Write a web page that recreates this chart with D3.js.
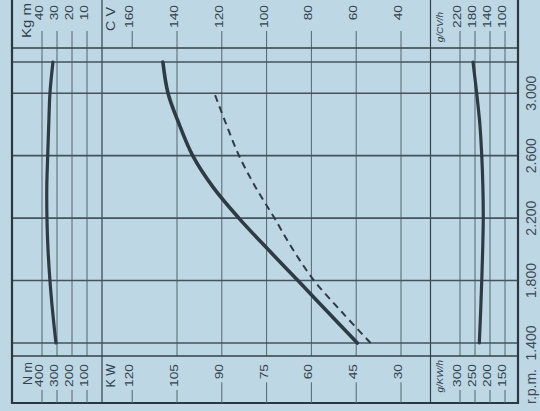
<!DOCTYPE html>
<html><head><meta charset="utf-8">
<script src="https://cdn.jsdelivr.net/npm/d3@7"></script>
<style>body{margin:0;background:#bdd7e5;} svg{display:block}</style>
</head><body>
<svg id="c" width="540" height="411"></svg>
<script>
// ---- data ----
const rpm = [1400, 1600, 1800, 2000, 2200, 2400, 2600, 2800, 3000, 3200];
const powerCV = [59.5, 72.8, 86, 99.4, 112.4, 124, 133, 139, 144, 146.3];
const rpmDashed = [1400, 1600, 1800, 2000, 2200, 2400, 2600, 2800, 3000];
const powerCVDashed = [53.6, 66.5, 78.8, 88.3, 96.5, 105, 112.3, 118, 123.3];
const torqueKgm = [30.7, 32.9, 34.7, 36.0, 36.7, 36.8, 36.2, 35.5, 34.7, 32.7];
const consumptionGCV = [168.5, 165, 162, 159.5, 158, 159, 162, 167, 175.5, 185.3];

const rpmGrid = [1400, 1800, 2200, 2600, 3000, 3200];
const rpmTicks = [1400, 1800, 2200, 2600, 3000];
const rpmLabels = ["1.400", "1.800", "2.200", "2.600", "3.000"];
const kgmTicks = [40, 30, 20, 10];
const nmTicks = [400, 300, 200, 100];
const cvTicks = [160, 140, 120, 100, 80, 60, 40];
const kwTicks = [120, 105, 90, 75, 60, 45, 30];
const gcvTicks = [220, 180, 140, 100];
const gkwTicks = [300, 250, 200, 150];

// ---- layout ----
const svg = d3.select("#c");
const F = {l: 12, r: 518, t: 0, b: 403, bandTop: 48, bandBot: 356, tickTop: 31};
const y = d3.scaleLinear().domain([1400, 3200]).range([343, 62]);
const xCV = d3.scaleLinear().domain([140, 40]).range([177, 401]);
const xKW = d3.scaleLinear().domain([105, 30]).range([177, 401]);
const xKgm = d3.scaleLinear().domain([40, 0]).range([42, 102]);
const xNm = d3.scaleLinear().domain([400, 0]).range([42, 102]);
const xGCV = d3.scaleLinear().domain([220, 100]).range([460, 505]);
const xGKW = d3.scaleLinear().domain([300, 150]).range([460, 505]);

const ink = "#34424b";
const gridC = "#56656f";

svg.append("rect").attr("width", 540).attr("height", 411).attr("fill", "#bdd7e5");

const g = svg.append("g");
// vertical gridlines in plot (from top tick start to bottom band)
const vx = [...kgmTicks.map(xKgm), ...cvTicks.filter(d => d <= 140).map(xCV), ...gcvTicks.map(xGCV)];
g.selectAll(".vg").data(vx).join("line")
  .attr("x1", d => d).attr("x2", d => d).attr("y1", F.tickTop).attr("y2", F.bandBot)
  .attr("stroke", gridC).attr("stroke-width", 1);
// CV 160 tick only in top band
g.append("line").attr("x1", xCV(160)).attr("x2", xCV(160)).attr("y1", F.tickTop).attr("y2", F.bandTop)
  .attr("stroke", gridC).attr("stroke-width", 1);
// separators full height
const sep = [xKgm(0), (xCV(40) + xGCV(220)) / 2];
g.selectAll(".sep").data(sep).join("line")
  .attr("x1", d => d).attr("x2", d => d).attr("y1", F.t).attr("y2", F.b)
  .attr("stroke", ink).attr("stroke-width", 1.2);
// horizontal rpm gridlines
g.selectAll(".hg").data(rpmGrid).join("line")
  .attr("x1", F.l).attr("x2", F.r).attr("y1", d => y(d)).attr("y2", d => y(d))
  .attr("stroke", "#45535c").attr("stroke-width", 1.6);
// band borders
g.selectAll(".bb").data([F.bandTop, F.bandBot]).join("line")
  .attr("x1", F.l).attr("x2", F.r).attr("y1", d => d).attr("y2", d => d)
  .attr("stroke", ink).attr("stroke-width", 1.6);
// frame
g.append("path").attr("d", `M${F.l},${F.t}V${F.b}H${F.r}V${F.t}`)
  .attr("fill", "none").attr("stroke", "#2c373e").attr("stroke-width", 2.2);

// ---- curves ----
const curve = d3.curveCatmullRom.alpha(0.5);
function drawCurve(xs, vals, xScale, w, dash) {
  const line = d3.line().x(d => xScale(d[1])).y(d => y(d[0])).curve(curve);
  svg.append("path").datum(xs.map((r, i) => [r, vals[i]]))
    .attr("d", line).attr("fill", "none").attr("stroke", "#2f3b44")
    .attr("stroke-width", w).attr("stroke-linecap", dash ? "butt" : "round")
    .attr("stroke-dasharray", dash || null);
}
drawCurve(rpm, torqueKgm, xKgm, 3.2);
drawCurve(rpm, powerCV, xCV, 3.6);
drawCurve(rpmDashed, powerCVDashed, xCV, 2, "7,5");
drawCurve(rpm, consumptionGCV, xGCV, 3.2);

// ---- text ----
const fontFam = "'Liberation Sans', Arial, Helvetica, sans-serif";
function vtext(x, yy, txt, opts) {
  const o = Object.assign({size: 11, sx: 1.25, anchor: "end", style: "normal", fill: ink}, opts || {});
  return svg.append("text")
    .attr("transform", `translate(${x},${yy}) rotate(-90) scale(${o.sx},1)`)
    .attr("text-anchor", o.anchor).attr("font-family", fontFam)
    .attr("font-size", o.size).attr("font-style", o.style).attr("fill", o.fill).text(txt);
}
// top band labels
vtext(31, 3, "Kg m", {size: 12.5, sx: 1.2});
kgmTicks.forEach(d => vtext(xKgm(d) + 1, 5, d));
vtext(115, 7, "C V", {size: 12.5, sx: 1.15});
cvTicks.forEach(d => vtext(xCV(d) + 1, 5, d));
vtext(443, 12, "g/CV/h", {size: 9, sx: 1.1, style: "italic"});
gcvTicks.forEach(d => vtext(xGCV(d) + 1, 5, d));

// bottom band labels with ticks below the text
function bottomLabel(x, txt, opts) {
  const t = vtext(x + 1, 364, txt, opts);
  const sx = (opts && opts.sx) || 1.25;
  const len = t.node().getComputedTextLength() * sx;
  svg.append("line").attr("x1", x).attr("x2", x).attr("y1", 364 + len + 3).attr("y2", F.b)
    .attr("stroke", gridC).attr("stroke-width", 1);
}
vtext(32, 362, "N m", {size: 12.5, sx: 1.0});
nmTicks.forEach(d => bottomLabel(xNm(d), d));
vtext(115, 364, "K W", {size: 12.5, sx: 1.0});
kwTicks.forEach(d => bottomLabel(xKW(d), d));
vtext(443, 360, "g/KW/h", {size: 9, sx: 1.1, style: "italic"});
gkwTicks.forEach(d => bottomLabel(xGKW(d), d));

// rpm labels on right
rpmTicks.forEach((d, i) => vtext(536, y(d), rpmLabels[i], {size: 14, sx: 1, anchor: "middle", fill: "#3d4b55"}));
vtext(536, 404, "r.p.m.", {size: 14, sx: 1, anchor: "start", fill: "#3d4b55"});
</script>
</body></html>
